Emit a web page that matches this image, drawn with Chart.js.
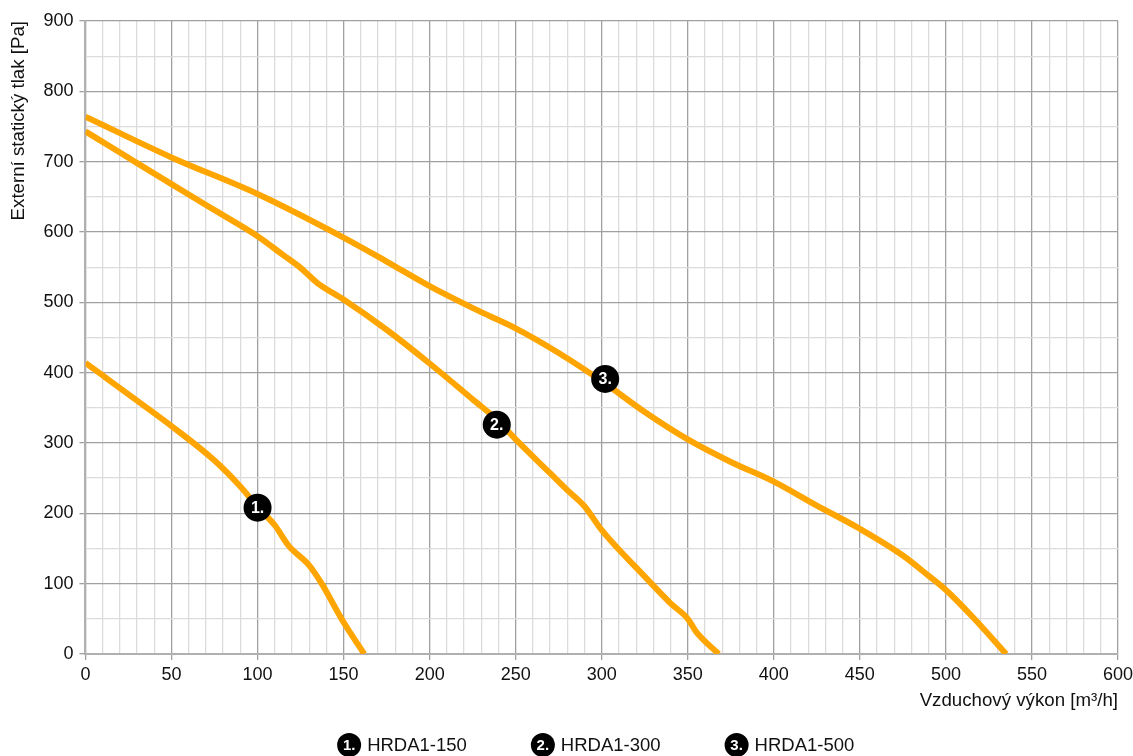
<!DOCTYPE html>
<html lang="cs">
  <head>
    <meta charset="UTF-8" />
    <title>HRDA1 – externí statický tlak</title>
    <script src="https://cdn.jsdelivr.net/npm/chart.js"></script>
    <style>
      body { margin: 0; background: #fff; }
      #wrap { width: 1133px; height: 756px; }
    </style>
  </head>
  <body>
    <div id="wrap"><canvas id="curves"></canvas></div>
    <script>
      // data
      const seriesNames = ["HRDA1-150", "HRDA1-300", "HRDA1-500"];
      const markerLabels = ["1.", "2.", "3."];

      const flow150 = [0, 10, 25, 50, 75, 90, 100, 110, 118, 130, 137, 150, 162];
      const press150 = [414, 396, 369, 324, 275, 238, 209, 183, 154, 126, 101, 45, 0];

      const flow300 = [0, 20, 50, 75, 100, 115, 125, 135, 150, 175, 200, 225, 240, 250, 270, 280, 290, 300, 325, 340, 350, 355, 368];
      const press300 = [743, 713, 668, 631, 594, 567, 549, 527, 504, 461, 413, 362, 331, 305, 257, 233, 210, 176, 110, 72, 50, 31, 0];

      const flow500 = [0, 50, 100, 150, 175, 200, 230, 250, 275, 300, 325, 350, 375, 400, 425, 450, 475, 490, 500, 515, 535];
      const press500 = [764, 706, 654, 592, 558, 523, 486, 463, 428, 388, 344, 305, 273, 245, 211, 178, 140, 111, 91, 54, 0];

      // pozice číselných značek na křivkách
      const markerFlow = [100, 239, 302];
      const markerPress = [208, 326, 391];

      const FONT = "'Liberation Sans', Arial, sans-serif";
      const lineColor = "#ffa500";

      function toPoints(xs, ys) {
        return xs.map((x, i) => ({ x: x, y: ys[i] }));
      }

      function drawBadge(ctx, x, y, r, text, fontSize) {
        ctx.save();
        ctx.beginPath();
        ctx.arc(x, y, r, 0, Math.PI * 2);
        ctx.fillStyle = "#000";
        ctx.fill();
        ctx.fillStyle = "#fff";
        ctx.font = "bold " + fontSize + "px " + FONT;
        ctx.textAlign = "center";
        ctx.textBaseline = "middle";
        ctx.fillText(text, x, y + 1);
        ctx.restore();
      }

      // černé kroužky s čísly přímo na křivkách
      const badgePlugin = {
        id: "badges",
        afterDatasetsDraw(chart) {
          const xs = chart.scales.x, ys = chart.scales.y;
          for (let i = 0; i < markerLabels.length; i++) {
            drawBadge(chart.ctx, xs.getPixelForValue(markerFlow[i]), ys.getPixelForValue(markerPress[i]), 14, markerLabels[i], 16);
          }
        },
      };

      // legenda dole, zhruba pod středem grafu
      const legendPlugin = {
        id: "bottomLegend",
        afterDraw(chart) {
          const ctx = chart.ctx;
          const area = chart.chartArea;
          const r = 12, gapIcon = 6, gapItem = 64;
          ctx.save();
          ctx.font = "18.5px " + FONT;
          const widths = seriesNames.map((n) => ctx.measureText(n).width);
          let total = 0;
          widths.forEach((w) => (total += r * 2 + gapIcon + w));
          total += gapItem * (seriesNames.length - 1);
          let x = (area.left + area.right) / 2 - total / 2 - 6;
          const y = 745;
          seriesNames.forEach((name, i) => {
            drawBadge(ctx, x + r, y, r, markerLabels[i], 15);
            ctx.fillStyle = "#111";
            ctx.font = "18.5px " + FONT;
            ctx.textAlign = "left";
            ctx.textBaseline = "middle";
            ctx.fillText(name, x + r * 2 + gapIcon, y + 1);
            x += r * 2 + gapIcon + widths[i] + gapItem;
          });
          ctx.restore();
        },
      };

      const datasets = [
        [flow150, press150],
        [flow300, press300],
        [flow500, press500],
      ].map((d, i) => ({
        label: seriesNames[i],
        data: toPoints(d[0], d[1]),
        borderColor: lineColor,
        backgroundColor: lineColor,
        borderWidth: 6,
        pointRadius: 0,
        cubicInterpolationMode: "monotone",
        borderCapStyle: "butt",
      }));

      const ctx = document.getElementById("curves").getContext("2d");
      const chart = new Chart(ctx, {
        type: "scatter",
        data: { datasets: datasets },
        options: {
          responsive: true,
          maintainAspectRatio: false,
          animation: false,
          showLine: true,
          layout: { padding: { top: 21, right: 0, bottom: 44, left: 8 } },
          scales: {
            x: {
              type: "linear",
              min: 0,
              max: 600,
              // poslední popisek "600" smí sahat až k okraji
              afterFit: (s) => { s.paddingRight = 15; },
              border: { color: "#b0b0b0", width: 2 },
              grid: {
                color: (c) => (c.tick && c.tick.value % 50 === 0 ? "#a0a0a0" : "#dcdcdc"),
                tickColor: (c) => (c.tick && c.tick.value % 50 === 0 ? "#a0a0a0" : "rgba(0,0,0,0)"),
                tickLength: 6,
                lineWidth: 1.3,
              },
              ticks: {
                stepSize: 10,
                autoSkip: false,
                maxRotation: 0,
                padding: 4,
                color: "#111",
                font: { family: FONT, size: 18 },
                callback: (v) => (v % 50 === 0 ? v : ""),
              },
              title: {
                display: true,
                text: "Vzduchový výkon [m³/h]",
                align: "end",
                color: "#111",
                font: { family: FONT, size: 18.7 },
                padding: { top: 0, bottom: 0 },
              },
            },
            y: {
              type: "linear",
              min: 0,
              max: 900,
              border: { color: "#b0b0b0", width: 2 },
              grid: {
                color: (c) => (c.tick && c.tick.value % 100 === 0 ? "#a0a0a0" : "#dcdcdc"),
                tickColor: (c) => (c.tick && c.tick.value % 100 === 0 ? "#a0a0a0" : "rgba(0,0,0,0)"),
                tickLength: 6,
                lineWidth: 1.3,
              },
              ticks: {
                stepSize: 50,
                autoSkip: false,
                padding: 6,
                color: "#111",
                font: { family: FONT, size: 18 },
                callback: (v) => (v % 100 === 0 ? v : ""),
              },
              title: {
                display: true,
                text: "Externí statický tlak [Pa]",
                align: "end",
                color: "#111",
                font: { family: FONT, size: 18.7 },
                padding: { top: 0, bottom: 7 },
              },
            },
          },
          plugins: {
            legend: { display: false },
            tooltip: { enabled: false },
          },
        },
        plugins: [badgePlugin, legendPlugin],
      });
    </script>
  </body>
</html>
